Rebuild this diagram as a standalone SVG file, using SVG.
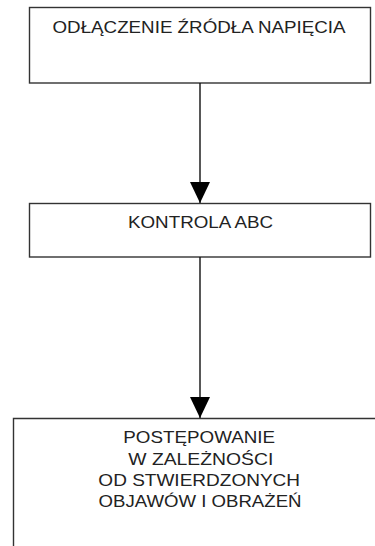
<svg xmlns="http://www.w3.org/2000/svg" width="375" height="546" viewBox="0 0 375 546">
<style>
.box{fill:#fff;stroke:#333;stroke-width:1.4}
.t{font-family:"Liberation Sans",Arial,sans-serif;font-size:16.5px;fill:#222;text-anchor:middle}
.c{stroke:#111;stroke-width:1.4;fill:none}
</style>
<defs>
<marker id="ah" viewBox="0 0 21 20" refX="21" refY="10" markerWidth="21" markerHeight="20" markerUnits="userSpaceOnUse" orient="auto">
<path d="M0,0 L21,10 L0,20 Z" fill="#000"/>
</marker>
</defs>
<rect width="375" height="546" fill="#fff"/>
<g id="n1">
<rect class="box" x="29.5" y="7.5" width="341" height="75.5"/>
<text class="t" x="199" y="33.3" textLength="293" lengthAdjust="spacingAndGlyphs">ODŁĄCZENIE ŹRÓDŁA NAPIĘCIA</text>
</g>
<g id="n2">
<rect class="box" x="29.5" y="203.5" width="341" height="53.5"/>
<text class="t" x="200.5" y="228.3" textLength="145" lengthAdjust="spacingAndGlyphs">KONTROLA ABC</text>
</g>
<g id="n3">
<path class="box" d="M376,418.5 L13.5,418.5 L13.5,546"/>
<text class="t" x="199.2" y="443.3" textLength="151.7" lengthAdjust="spacingAndGlyphs">POSTĘPOWANIE</text>
<text class="t" x="200.8" y="465" textLength="145" lengthAdjust="spacingAndGlyphs">W ZALEŻNOŚCI</text>
<text class="t" x="199.2" y="486" textLength="201.7" lengthAdjust="spacingAndGlyphs">OD STWIERDZONYCH</text>
<text class="t" x="200" y="506.7" textLength="203" lengthAdjust="spacingAndGlyphs">OBJAWÓW I OBRAŻEŃ</text>
</g>
<g id="connectors">
<path class="c" d="M200,83 L200,203" marker-end="url(#ah)"/>
<path class="c" d="M200,257 L200,418" marker-end="url(#ah)"/>
</g>
</svg>
